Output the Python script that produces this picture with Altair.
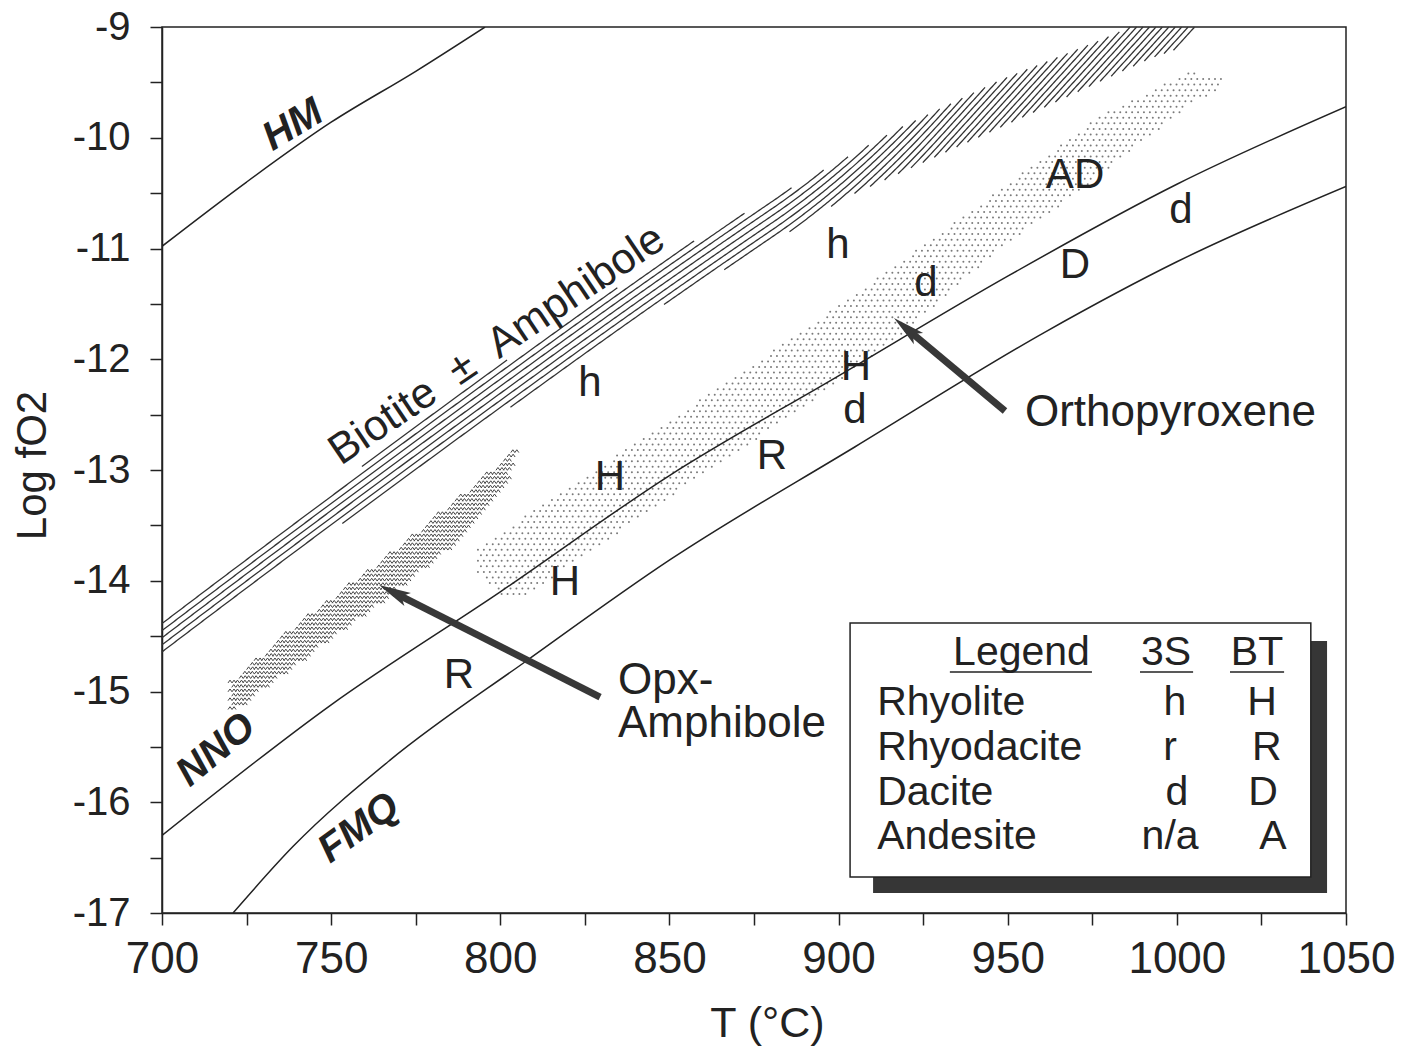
import altair as alt
import numpy as np
import pandas as pd

# ---------------- axes ----------------
X_DOMAIN = [700, 1050]
Y_DOMAIN = [-17, -9]
X_TICKS = [700, 725, 750, 775, 800, 825, 850, 875, 900, 925, 950, 975, 1000, 1025, 1050]
Y_TICKS = [-17, -16.5, -16, -15.5, -15, -14.5, -14, -13.5, -13, -12.5, -12, -11.5,
           -11, -10.5, -10, -9.5, -9]

# ---------------- buffer curves (T degC, log fO2) ----------------
HM_T = [700, 725, 750, 775, 795.5]
HM_L = [-10.98, -10.40, -9.86, -9.40, -9.0]
NNO_T = [700, 750, 800, 850, 900, 950, 1000, 1050]
NNO_L = [-16.30, -15.12, -14.10, -13.05, -12.15, -11.25, -10.42, -9.72]
FMQ_T = [721, 738.7, 767.4, 807.9, 850.2, 904.9, 961.3, 1000, 1050]
FMQ_L = [-17.0, -16.40, -15.62, -14.72, -13.81, -12.79, -11.75, -11.12, -10.44]

# ---------------- Biotite +- Amphibole band (hatched) ----------------
BIO_UP_T = [700.0, 720.1, 752.6, 778.3, 799.9, 829.5, 859.0, 888.6, 918.2, 947.7, 977.3, 986.1, 1012]
BIO_UP_L = [-14.37, -13.90, -13.12, -12.52, -12.05, -11.45, -10.90, -10.41, -9.91, -9.48, -9.12, -9.0, -9.0]
BIO_LO_T = [700.0, 723.1, 747.6, 772.4, 791.9, 817.7, 844.3, 857.0, 876.8, 902.2, 931.7, 961.3, 990.9, 1001.8, 1005.4]
BIO_LO_L = [-14.69, -14.17, -13.61, -13.06, -12.64, -12.16, -11.58, -11.35, -11.01, -10.54, -10.13, -9.72, -9.30, -9.18, -9.0]
# direction of the hatch strokes along the band (pixel rise per pixel run)
HATCH_T = [700, 820, 880, 930, 1012]
HATCH_PX_SLOPE = [0.76, 0.72, 0.68, 1.1, 1.1]
HATCH_GAP = 0.064          # vertical spacing of strokes, log units

# ---------------- Orthopyroxene band (stippled) ----------------
ORTHO_T = [793.4, 799.9, 805.8, 829.5, 859.0, 888.6, 918.2, 947.7, 977.3, 1003.9, 1013.3]
ORTHO_UP = [-13.70, -13.57, -13.45, -12.97, -12.37, -11.76, -11.12, -10.47, -9.80, -9.41, -9.46]
ORTHO_LO = [-13.92, -14.13, -14.17, -13.68, -13.06, -12.46, -11.78, -11.01, -10.34, -9.70, -9.55]

# ---------------- Opx-Amphibole band (wavy texture) ----------------
OPXAMP_T = [720.7, 740.8, 764.4, 785.1, 802.0, 804.6]
OPXAMP_UP = [-14.91, -14.37, -13.83, -13.32, -12.89, -12.79]
OPXAMP_LO = [-15.19, -14.73, -14.20, -13.70, -13.12, -12.84]

# ---------------- sample letters ----------------
LETTERS = ['h', 'h', 'H', 'H', 'H', 'd', 'R', 'R', 'd', 'D', 'd', 'AD']
LET_T = [826.5, 899.8, 832.4, 819.1, 905.1, 904.8, 880.3, 787.8, 925.8, 969.9, 1001.2, 969.9]
LET_L = [-12.21, -10.97, -13.06, -14.01, -12.07, -12.46, -12.87, -14.85, -11.31, -11.15, -10.65, -10.34]

# ---------------- buffer labels ----------------
BUF_NAMES = ['HM', 'NNO', 'FMQ']
BUF_T = [738.7, 716.0, 758.2]
BUF_L = [-9.885, -15.528, -16.233]
BUF_ANG = [329, 320, 324]

# ---------------- arrows ----------------
ARR_TAIL_T = [949.2, 829.5]
ARR_TAIL_L = [-12.467, -15.050]
ARR_HEAD_T = [920.0, 768.4]
ARR_HEAD_L = [-11.721, -14.104]
ARR_ANG = [310, 297]

# ---------------- legend ----------------
LEG_SHADOW = [910.2, 1044.4, -14.544, -16.820]
LEG_BOX = [903.4, 1039.6, -14.382, -16.675]
LEG_ROWS = ['Rhyolite', 'Rhyodacite', 'Dacite', 'Andesite']
LEG_ROW_L = [-15.104, -15.511, -15.917, -16.314]
LEG_3S = ['h', 'r', 'd', 'n/a']
LEG_3S_T = [999.4, 998.0, 1000.0, 998.0]
LEG_BT = ['H', 'R', 'D', 'A']
LEG_BT_T = [1025.2, 1026.6, 1025.5, 1028.4]
LEG_HEAD = ['Legend', '3S', 'BT']
LEG_HEAD_T = [974.3, 996.8, 1023.7]
LEG_HEAD_ALIGN = ['right', 'center', 'center']
LEG_HEAD_L = -14.653
LEG_UL_T = [932.9, 989.1, 1015.7]
LEG_UL_T2 = [974.9, 1004.8, 1031.7]
LEG_UL_L = -14.824

FONT = 'Liberation Sans'
INK = '#222222'
PX_TO_DATA_SLOPE = (1184 / 350) / (886 / 8)   # pixel slope -> log units per degC


# ---------------- textures ----------------
def hatch_df():
    step = 0.1
    Ts = np.arange(700, 1012, step)
    lo = np.interp(Ts, BIO_LO_T, BIO_LO_L)
    hi = np.interp(Ts, BIO_UP_T, BIO_UP_L)
    slope = np.interp(Ts, HATCH_T, HATCH_PX_SLOPE) * PX_TO_DATA_SLOPE
    f = np.concatenate([[0], np.cumsum(slope[:-1] * step)])
    valid = lo < hi
    cmin = np.min((lo - f)[valid]) - HATCH_GAP
    cmax = np.max((hi - f)[valid]) + HATCH_GAP
    rows = []
    seg = 0
    c = cmin
    while c < cmax:
        y = c + f
        inside = (y > lo) & (y < hi) & (y <= -9)
        edges = np.flatnonzero(np.diff(np.concatenate([[0], inside.astype(int), [0]])))
        for a, b in zip(edges[::2], edges[1::2]):
            if b - a >= 5:
                idx = list(range(a, b - 1, 5)) + [b - 1]
                for i in idx:
                    rows.append(dict(T=Ts[i], L=y[i], seg=seg))
                seg += 1
        c += HATCH_GAP
    return pd.DataFrame(rows)


def grid_in_band(tx, up, lo_, dT, dL):
    rows = []
    Ls = np.arange(min(lo_) - dL, max(up) + dL, dL)
    for i, L in enumerate(Ls):
        Ts = np.arange(tx[0] + (dT / 2 if i % 2 else 0), tx[-1], dT)
        lo = np.interp(Ts, tx, lo_)
        hi = np.interp(Ts, tx, up)
        m = (L > lo) & (L < hi)
        rows += [dict(T=t, L=L) for t in Ts[m]]
    return pd.DataFrame(rows)


xs = alt.Scale(domain=X_DOMAIN, nice=False, zero=False)
ys = alt.Scale(domain=Y_DOMAIN, nice=False, zero=False)
xaxis = alt.Axis(values=X_TICKS, labelExpr="datum.value % 50 == 0 ? format(datum.value, 'd') : ''",
                 title='T (°C)', tickSize=12, tickWidth=1.5, tickColor=INK, domainColor=INK,
                 domainWidth=1.5, labelFont=FONT, labelFontSize=44, labelColor=INK,
                 labelPadding=12, labelFlush=False, labelOverlap=False, grid=False,
                 titleFont=FONT, titleFontSize=43, titleFontWeight='normal', titleColor=INK,
                 titleX=605, titleY=123, titleBaseline='alphabetic', titleAlign='center')
yaxis = alt.Axis(values=Y_TICKS,
                 labelExpr="datum.value % 1 == 0 ? '-' + format(abs(datum.value), 'd') : ''",
                 title='Log fO2', tickSize=12, tickWidth=1.5, tickColor=INK, domainColor=INK,
                 domainWidth=1.5, labelFont=FONT, labelFontSize=40, labelColor=INK,
                 labelPadding=20, labelFlush=False, labelOverlap=False, grid=False,
                 titleFont=FONT, titleFontSize=42, titleFontWeight='normal', titleColor=INK,
                 titleX=-117, titleY=438, titleBaseline='alphabetic', titleAlign='center',
                 titleAngle=270)
X = alt.X('T:Q', scale=xs, axis=xaxis)
Y = alt.Y('L:Q', scale=ys, axis=yaxis)

layers = []

# hatch band
layers.append(alt.Chart(hatch_df()).mark_line(color='#333333', strokeWidth=1.3).encode(
    x=X, y=Y, detail='seg:N', order='T:Q'))

# stipple band
layers.append(alt.Chart(grid_in_band(ORTHO_T, ORTHO_UP, ORTHO_LO, 1.75, 0.05)).mark_circle(
    size=4, color='#7a7a7a', opacity=1).encode(x=X, y=Y))

# opx-amphibole wavy texture
ZZ = 'M-1,0.35L-0.5,-0.35L0,0.35L0.5,-0.35L1,0.35'
layers.append(alt.Chart(grid_in_band(OPXAMP_T, OPXAMP_UP, OPXAMP_LO, 2.2, 0.04)).mark_point(
    shape=ZZ, size=64, filled=False, strokeWidth=1, color='#444444', opacity=1).encode(x=X, y=Y))

# buffer curves
buf = pd.concat([
    pd.DataFrame({'T': HM_T, 'L': HM_L, 'curve': 'HM'}),
    pd.DataFrame({'T': NNO_T, 'L': NNO_L, 'curve': 'NNO'}),
    pd.DataFrame({'T': FMQ_T, 'L': FMQ_L, 'curve': 'FMQ'}),
])
layers.append(alt.Chart(buf).mark_line(color=INK, strokeWidth=1.5, interpolate='monotone',
                                       clip=True).encode(x=X, y=Y, detail='curve:N'))

# buffer labels
for n, t, l, a in zip(BUF_NAMES, BUF_T, BUF_L, BUF_ANG):
    layers.append(alt.Chart(pd.DataFrame({'T': [t], 'L': [l], 'txt': [n]})).mark_text(
        font=FONT, fontSize=40, fontWeight='bold', fontStyle='italic', color=INK,
        angle=a, align='center', baseline='middle').encode(x=X, y=Y, text='txt:N'))

# Biotite label
layers.append(alt.Chart(pd.DataFrame({'T': [799.0], 'L': [-11.871],
                                      'txt': ['Biotite\u00a0\u00a0±\u00a0\u00a0Amphibole']})).mark_text(
    font=FONT, fontSize=43, color=INK, angle=326, align='center', baseline='middle').encode(
    x=X, y=Y, text='txt:N'))

# sample letters
layers.append(alt.Chart(pd.DataFrame({'T': LET_T, 'L': LET_L, 'txt': LETTERS})).mark_text(
    font=FONT, fontSize=42, color=INK, align='center', baseline='middle').encode(
    x=X, y=Y, text='txt:N'))

# arrows
arr = pd.DataFrame({'T': ARR_TAIL_T, 'L': ARR_TAIL_L, 'T2': ARR_HEAD_T, 'L2': ARR_HEAD_L})
layers.append(alt.Chart(arr).mark_rule(color='#383838', strokeWidth=7).encode(
    x=X, y=Y, x2='T2:Q', y2='L2:Q'))
HEAD = 'M0,-1L0.45,1L0,0.55L-0.45,1Z'
for t, l, a in zip(ARR_HEAD_T, ARR_HEAD_L, ARR_ANG):
    layers.append(alt.Chart(pd.DataFrame({'T': [t], 'L': [l]})).mark_point(
        shape=HEAD, size=1024, filled=True, color='#383838', opacity=1, angle=a,
        strokeWidth=0).encode(x=X, y=Y))

# region labels
reg = pd.DataFrame({'T': [955.1, 834.8, 834.8], 'L': [-12.485, -14.906, -15.294],
                    'txt': ['Orthopyroxene', 'Opx-', 'Amphibole']})
layers.append(alt.Chart(reg).mark_text(font=FONT, fontSize=44, color=INK, align='left',
                                       baseline='middle').encode(x=X, y=Y, text='txt:N'))

# legend box
layers.append(alt.Chart(pd.DataFrame({'T': [LEG_SHADOW[0]], 'T2': [LEG_SHADOW[1]],
                                      'L': [LEG_SHADOW[2]], 'L2': [LEG_SHADOW[3]]})).mark_rect(
    color='#363636').encode(x=X, x2='T2:Q', y=Y, y2='L2:Q'))
layers.append(alt.Chart(pd.DataFrame({'T': [LEG_BOX[0]], 'T2': [LEG_BOX[1]],
                                      'L': [LEG_BOX[2]], 'L2': [LEG_BOX[3]]})).mark_rect(
    fill='white', stroke=INK, strokeWidth=1.5).encode(x=X, x2='T2:Q', y=Y, y2='L2:Q'))
for txt, t, al in zip(LEG_HEAD, LEG_HEAD_T, LEG_HEAD_ALIGN):
    layers.append(alt.Chart(pd.DataFrame({'T': [t], 'L': [LEG_HEAD_L], 'txt': [txt]})).mark_text(
        font=FONT, fontSize=41, color=INK, align=al, baseline='middle').encode(
        x=X, y=Y, text='txt:N'))
layers.append(alt.Chart(pd.DataFrame({'T': LEG_UL_T, 'T2': LEG_UL_T2,
                                      'L': [LEG_UL_L] * 3})).mark_rule(
    color=INK, strokeWidth=1.5).encode(x=X, x2='T2:Q', y=Y))
layers.append(alt.Chart(pd.DataFrame({'T': [911.4] * 4, 'L': LEG_ROW_L, 'txt': LEG_ROWS})).mark_text(
    font=FONT, fontSize=41, color=INK, align='left', baseline='middle').encode(
    x=X, y=Y, text='txt:N'))
layers.append(alt.Chart(pd.DataFrame({'T': LEG_3S_T, 'L': LEG_ROW_L, 'txt': LEG_3S})).mark_text(
    font=FONT, fontSize=41, color=INK, align='center', baseline='middle').encode(
    x=X, y=Y, text='txt:N'))
layers.append(alt.Chart(pd.DataFrame({'T': LEG_BT_T, 'L': LEG_ROW_L, 'txt': LEG_BT})).mark_text(
    font=FONT, fontSize=41, color=INK, align='center', baseline='middle').encode(
    x=X, y=Y, text='txt:N'))

chart = alt.layer(*layers).properties(
    width=1184, height=886,
    autosize=alt.AutoSizeParams(type='none'),
    padding={'left': 162, 'top': 27, 'right': 57, 'bottom': 137},
    background='white',
).configure_view(stroke=INK, strokeWidth=1.5)

chart.save('out.html', embed_options={'renderer': 'svg', 'actions': False})
